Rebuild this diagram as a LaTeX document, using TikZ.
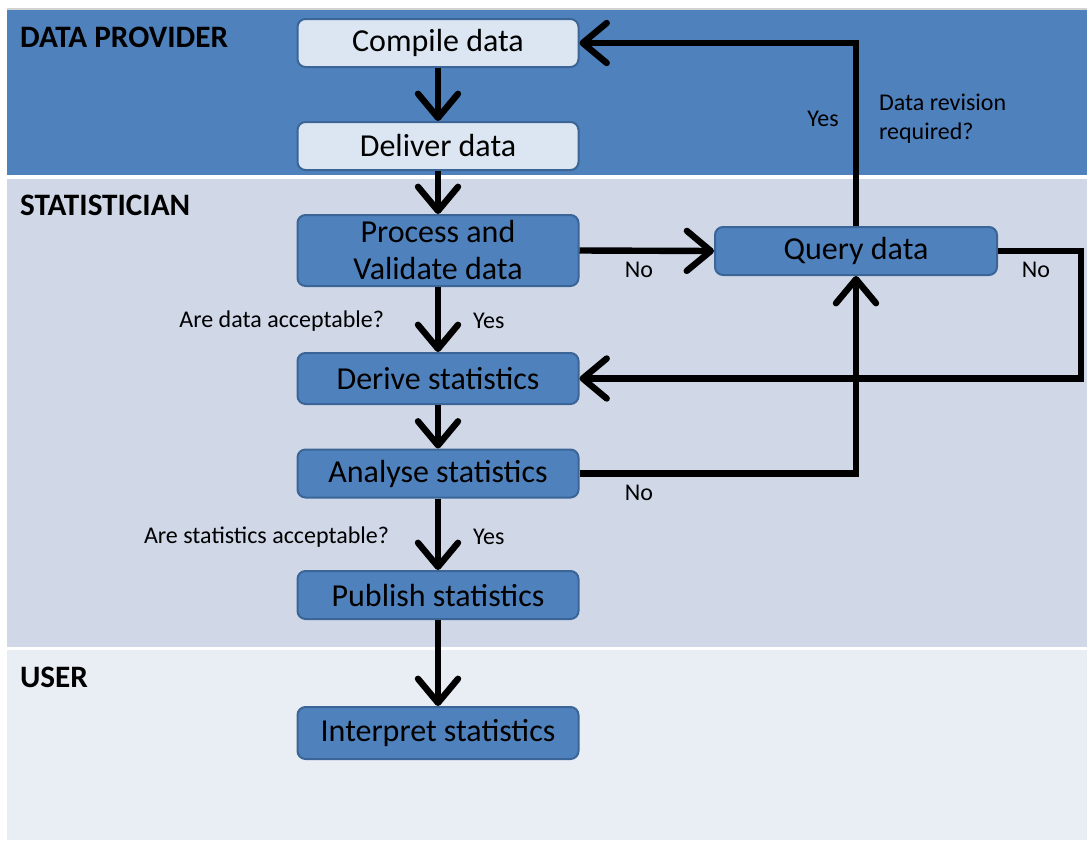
\documentclass[tikz,border=0pt]{standalone}
\usepackage{fontspec}
\setmainfont{Carlito}
\usetikzlibrary{arrows.meta}
\definecolor{bandblue}{HTML}{4F81BD}
\definecolor{boxline}{HTML}{3A6596}
\definecolor{lightfill}{HTML}{DCE6F2}
\definecolor{statfill}{HTML}{D0D8E8}
\definecolor{userfill}{HTML}{E9EDF4}

\begin{document}
\begin{tikzpicture}[x=0.5pt,y=-0.5pt,
  box/.style={draw=boxline,line width=1pt,fill=bandblue,rounded corners=4pt,
    minimum width=140.5pt,minimum height=24pt,inner sep=0pt,align=center,
    font=\fontsize{16}{18.5}\selectfont},
  lightbox/.style={box,fill=lightfill},
  flow/.style={line width=3.2pt,
    -{Straight Barb[length=12pt,width=20pt,line cap=round,line join=round]}},
  lane/.style={anchor=west,font=\bfseries\fontsize{15.6}{18}\selectfont},
  lbl/.style={font=\fontsize{12}{14.5}\selectfont}]
\useasboundingbox (0,0) rectangle (1087,841);
% swim lanes
\fill[white] (0,0) rectangle (1087,841);
\draw[gray!35,line width=1pt] (7,8.5) -- (1087,8.5);
\fill[bandblue] (7,10) rectangle (1087,175);
\fill[statfill] (7,179) rectangle (1087,647);
\fill[userfill] (7,650) rectangle (1087,840);
\node[lane] (lprov) at (13,37) {DATA PROVIDER};
\node[lane] (lstat) at (13,205) {STATISTICIAN};
\node[lane] (luser) at (13,677) {USER};
% steps
\node[lightbox] (compile) at (438,43) {Compile data};
\node[lightbox] (deliver) at (438,146) {Deliver data};
\node[box,minimum height=35.5pt] (process) at (438,250.5) {Process and\\Validate data};
\node[box,minimum height=25.5pt] (derive) at (438,378.5) {Derive statistics};
\node[box] (analyse) at (438,473.5) {Analyse statistics};
\node[box] (publish) at (438,595) {Publish statistics};
\node[box,minimum height=26pt] (interpret) at (438,733) {Interpret statistics};
\node[box,minimum width=141pt] (query) at (856,251) {Query data};
% main flow
\draw[flow] (compile) -- (deliver);
\draw[flow] (deliver) -- (process);
\draw[flow] (process) -- (derive);
\draw[flow] (derive) -- (analyse);
\draw[flow] (analyse) -- (publish);
\draw[flow] (publish) -- (interpret);
% loops
\draw[flow] (process.east) -- (query.west);
\draw[flow] (query.north) |- (compile.east);
\draw[flow] (query.east) -- ++(83,0) |- (derive.east);
\draw[flow] (analyse.east) -| (query.south);
% labels
\node[lbl,anchor=east] (qdata) at (391,321) {Are data acceptable?};
\node[lbl,anchor=west] (ydata) at (466,321) {Yes};
\node[lbl,anchor=east] (qstat) at (396,537) {Are statistics acceptable?};
\node[lbl,anchor=west] (ystat) at (466,537) {Yes};
\node[lbl] (nproc) at (639,270) {No};
\node[lbl] (nquery) at (1036,270) {No};
\node[lbl] (nanal) at (639,493) {No};
\node[lbl] (yrev) at (823,119) {Yes};
\node[lbl,anchor=west,align=left] (qrev) at (872,119) {Data revision\\required?};
\end{tikzpicture}
\end{document}
